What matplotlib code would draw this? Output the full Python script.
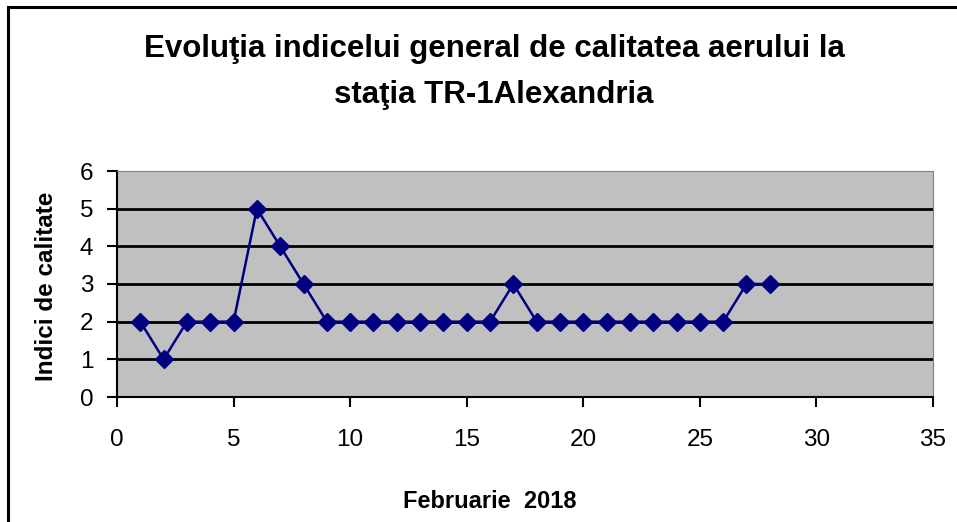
import matplotlib
matplotlib.use("Agg")
import matplotlib.pyplot as plt
from matplotlib.patches import Rectangle

# zilele lunii si indicele de calitate
zile = list(range(1, 29))
indici = [2, 1, 2, 2, 2, 5, 4, 3, 2, 2, 2, 2, 2, 2, 2, 2, 3, 2, 2, 2, 2, 2, 2, 2, 2, 2, 3, 3]

titlu = "Evoluţia indicelui general de calitatea aerului la\nstaţia TR-1Alexandria"
eticheta_x = "Februarie  2018"
eticheta_y = "Indici de calitate"

plt.rcParams["font.family"] = ["Liberation Sans", "DejaVu Sans"]

fig = plt.figure(figsize=(9.57, 5.22), dpi=100)
ax = fig.add_axes([117 / 957, 1 - 397 / 522, (933 - 117) / 957, (397 - 171) / 522])

ax.set_facecolor("#c0c0c0")
ax.plot(zile, indici, color="#000080", lw=1.8, marker="D", markersize=9,
        markerfacecolor="#000080", markeredgecolor="#000080", zorder=3)

ax.set_xlim(0, 35)
ax.set_ylim(0, 6)
ax.set_xticks(range(0, 36, 5))
ax.set_yticks(range(0, 7))
for y in range(1, 6):
    ax.axhline(y, color="black", lw=2, zorder=1)

ax.spines["left"].set_linewidth(1.5)
ax.spines["bottom"].set_linewidth(1.5)
ax.spines["top"].set_color("#808080")
ax.spines["right"].set_color("#808080")
ax.tick_params(direction="out", length=7, width=1.5, labelsize=17.5)
ax.tick_params(axis="x", pad=16)
ax.tick_params(axis="y", pad=10)

fig.text(490 / 957, 1 - 502 / 522, eticheta_x, ha="center", va="center",
         fontsize=17, fontweight="bold")
fig.text(47 / 957, 1 - 286 / 522, eticheta_y, ha="center", va="center",
         rotation=90, fontsize=17.5, fontweight="bold")

fig.text(494 / 957, 1 - 72 / 522, titlu, ha="center", va="center",
         fontsize=22.5, fontweight="bold", linespacing=1.66)

# chenarul exterior
fig.patches.append(Rectangle((8 / 957, -0.1), 1.2, 1 - 7 / 522 + 0.1,
                             transform=fig.transFigure, fill=False,
                             edgecolor="black", lw=2.2))

fig.savefig("out.png", dpi=100)
